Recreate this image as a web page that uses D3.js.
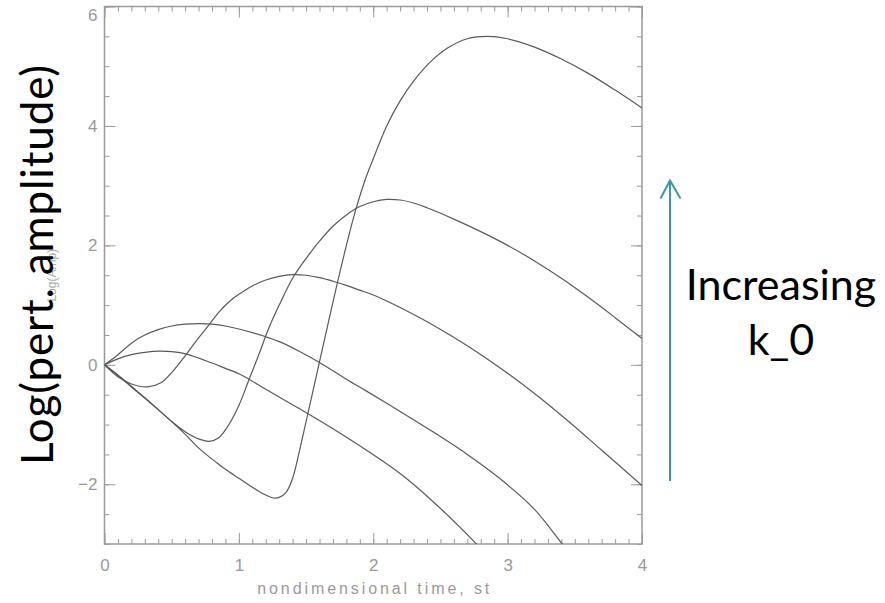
<!DOCTYPE html>
<html>
<head>
<meta charset="utf-8">
<script src="https://cdn.jsdelivr.net/npm/d3@7"></script>
<style>
  html, body { margin: 0; padding: 0; background: #fff; }
  svg { display: block; }
</style>
</head>
<body>
<svg id="chart" width="885" height="603"></svg>
<script>
// ---- data ----
const xTicks = [0, 1, 2, 3, 4];
const yTicks = [-2, 0, 2, 4, 6];
const xDomain = [0, 4];
const yDomain = [-3, 6];

// each series: [time, log amplitude]
const curve1 = [[0,0],[0.1,0.1],[0.2,0.17],[0.3,0.21],[0.41,0.23],[0.5,0.22],[0.61,0.18],[0.8,0.03],[0.9,-0.06],[1.0,-0.15],[1.075,-0.24],[1.2,-0.41],[1.455,-0.74],[1.7,-1.07],[1.95,-1.43],[2.2,-1.82],[2.45,-2.3],[2.76,-2.98],[2.85,-3.2]];
const curve2 = [[0,0],[0.1,0.17],[0.21,0.38],[0.3,0.5],[0.4,0.59],[0.5,0.65],[0.6,0.68],[0.71,0.69],[0.8,0.68],[0.9,0.65],[1.0,0.6],[1.1,0.54],[1.2,0.47],[1.31,0.38],[1.455,0.22],[1.6,0.04],[1.8,-0.24],[1.95,-0.44],[2.2,-0.78],[2.45,-1.13],[2.7,-1.5],[2.94,-1.9],[3.2,-2.42],[3.4,-2.98],[3.5,-3.25]];
const curve3 = [[0,0],[0.1,-0.2],[0.2,-0.32],[0.32,-0.37],[0.42,-0.3],[0.5,-0.13],[0.61,0.18],[0.7,0.45],[0.785,0.69],[0.85,0.88],[0.934,1.07],[1.0,1.18],[1.1,1.32],[1.2,1.42],[1.3,1.48],[1.4,1.51],[1.5,1.5],[1.6,1.46],[1.7,1.4],[1.8,1.33],[1.9,1.25],[2.0,1.17],[2.1,1.07],[2.2,0.96],[2.45,0.66],[2.7,0.32],[2.95,-0.06],[3.2,-0.48],[3.45,-0.94],[3.7,-1.43],[4.0,-2.02]];
const curve4 = [[0,0],[0.1,-0.17],[0.2,-0.36],[0.3,-0.55],[0.4,-0.75],[0.5,-0.95],[0.6,-1.12],[0.7,-1.24],[0.78,-1.28],[0.85,-1.22],[0.92,-1.02],[1.0,-0.68],[1.07,-0.28],[1.15,0.18],[1.22,0.6],[1.3,1.0],[1.4,1.45],[1.5,1.78],[1.6,2.07],[1.7,2.32],[1.8,2.51],[1.9,2.65],[2.0,2.73],[2.1,2.77],[2.2,2.76],[2.3,2.71],[2.4,2.63],[2.6,2.44],[2.8,2.23],[3.0,2.0],[3.2,1.74],[3.4,1.45],[3.6,1.13],[3.8,0.79],[4.0,0.44]];
const curve5 = [[0,0],[0.1,-0.18],[0.2,-0.37],[0.3,-0.56],[0.4,-0.75],[0.5,-0.95],[0.586,-1.13],[0.7,-1.39],[0.835,-1.64],[0.9,-1.75],[1.0,-1.9],[1.08,-2.02],[1.15,-2.12],[1.2,-2.18],[1.256,-2.23],[1.3,-2.22],[1.35,-2.14],[1.4,-1.9],[1.45,-1.45],[1.5,-0.95],[1.6,0.05],[1.7,1.05],[1.8,2.0],[1.87,2.6],[1.94,3.1],[2.0,3.45],[2.1,4.0],[2.2,4.42],[2.3,4.75],[2.42,5.06],[2.55,5.3],[2.7,5.46],[2.85,5.5],[3.0,5.46],[3.2,5.32],[3.4,5.12],[3.6,4.88],[3.8,4.6],[4.0,4.3]];
const series = [curve1, curve2, curve3, curve4, curve5];

const xTitle = "nondimensional time, st";
const yTitleSmall = "Log(Amp)";
const yTitleBig = "Log(pert. amplitude)";
const noteLines = ["Increasing", "k_0"];

// ---- layout ----
const svg = d3.select("#chart");
const L = 104.5, R = 642, T = 6.5, B = 544;
const x = d3.scaleLinear().domain(xDomain).range([L, R]);
const y = d3.scaleLinear().domain(yDomain).range([B, T]);

const axisColor = "#9a9a9a";
const labelColor = "#9a9a9a";
const tickFont = "Liberation Sans, Arial, sans-serif";

const xMinor = d3.range(0, 4.0001, 0.1).map(d => +d.toFixed(2));
const yMinor = d3.range(-3, 6.0001, 0.5);

function styleAxis(g) {
  g.select(".domain").remove();
  g.selectAll(".tick line").attr("stroke", axisColor).attr("stroke-width", 1);
  g.selectAll(".tick text").attr("fill", labelColor).attr("font-family", tickFont).attr("font-size", 17);
}

// minor ticks
svg.append("g").attr("transform", `translate(0,${B})`)
  .call(d3.axisBottom(x).tickValues(xMinor).tickSize(-5).tickFormat(""))
  .call(styleAxis);
svg.append("g").attr("transform", `translate(0,${T})`)
  .call(d3.axisTop(x).tickValues(xMinor).tickSize(-5).tickFormat(""))
  .call(styleAxis);
svg.append("g").attr("transform", `translate(${L},0)`)
  .call(d3.axisLeft(y).tickValues(yMinor).tickSize(-5).tickFormat(""))
  .call(styleAxis);
svg.append("g").attr("transform", `translate(${R},0)`)
  .call(d3.axisRight(y).tickValues(yMinor).tickSize(-5).tickFormat(""))
  .call(styleAxis);

// major ticks
svg.append("g").attr("transform", `translate(0,${B})`)
  .call(d3.axisBottom(x).tickValues(xTicks).tickSize(-11).tickPadding(15).tickFormat(d3.format("d")))
  .call(styleAxis);
svg.append("g").attr("transform", `translate(0,${T})`)
  .call(d3.axisTop(x).tickValues(xTicks).tickSize(-11).tickFormat(""))
  .call(styleAxis);
const yAx = svg.append("g").attr("transform", `translate(${L},0)`)
  .call(d3.axisLeft(y).tickValues(yTicks).tickSize(-11).tickPadding(7).tickFormat(d3.format("d")))
  .call(styleAxis);
yAx.selectAll(".tick text").filter(d => d === 6).attr("dy", "0.8em");
svg.append("g").attr("transform", `translate(${R},0)`)
  .call(d3.axisRight(y).tickValues(yTicks).tickSize(-11).tickFormat(""))
  .call(styleAxis);

// frame
svg.append("rect").attr("x", L).attr("y", T).attr("width", R - L).attr("height", B - T)
  .attr("fill", "none").attr("stroke", axisColor).attr("stroke-width", 1.5);

// curves
svg.append("clipPath").attr("id", "plotclip")
  .append("rect").attr("x", L).attr("y", T).attr("width", R - L).attr("height", B - T);
const line = d3.line().x(d => x(d[0])).y(d => y(d[1])).curve(d3.curveCatmullRom.alpha(0.5));
svg.append("g").attr("clip-path", "url(#plotclip)")
  .selectAll("path").data(series).join("path")
  .attr("d", line).attr("fill", "none").attr("stroke", "#5a5a5a").attr("stroke-width", 1.2);

// axis titles
svg.append("text").attr("x", (L + R) / 2).attr("y", 594)
  .attr("text-anchor", "middle").attr("fill", labelColor)
  .attr("font-family", tickFont).attr("font-size", 16)
  .attr("textLength", 232).attr("lengthAdjust", "spacing")
  .text(xTitle);

svg.append("text").attr("transform", `translate(56,${(T + B) / 2}) rotate(-90)`)
  .attr("text-anchor", "middle").attr("fill", "#a8a8a8")
  .attr("font-family", tickFont).attr("font-size", 12)
  .text(yTitleSmall);

svg.append("text").attr("transform", `translate(53,265) rotate(-90)`)
  .attr("text-anchor", "middle").attr("fill", "#000")
  .attr("font-family", "Lato, 'Open Sans', sans-serif").attr("font-size", 44)
  .attr("textLength", 400).attr("lengthAdjust", "spacing")
  .text(yTitleBig);

// annotation arrow
const arrowColor = "#3c96ab";
svg.append("line").attr("x1", 670).attr("y1", 481).attr("x2", 670).attr("y2", 181)
  .attr("stroke", arrowColor).attr("stroke-width", 2);
svg.append("path").attr("d", "M660.5,198.5 L670,180.5 L680.5,198.5")
  .attr("fill", "none").attr("stroke", arrowColor).attr("stroke-width", 2);

svg.append("text").attr("x", 781).attr("text-anchor", "middle")
  .attr("font-family", "Lato, 'Open Sans', sans-serif").attr("font-size", 43).attr("fill", "#000")
  .selectAll("tspan").data(noteLines).join("tspan")
  .attr("x", 781).attr("y", (d, i) => 300 + i * 55).text(d => d);
</script>
</body>
</html>
